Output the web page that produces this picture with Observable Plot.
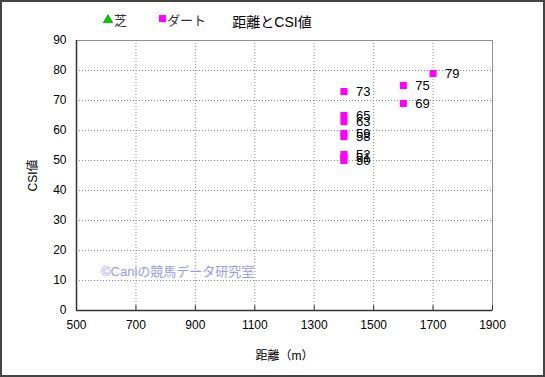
<!DOCTYPE html>
<html>
<head>
<meta charset="utf-8">
<script src="https://cdn.jsdelivr.net/npm/d3@7"></script>
<script src="https://cdn.jsdelivr.net/npm/@observablehq/plot@0.6"></script>
<style>
  html, body { margin: 0; padding: 0; background: #fff; }
  svg { display: block; }
</style>
</head>
<body>
<div id="chart"></div>
<script>
const FONT = '"Liberation Sans", Arial, "Noto Sans CJK JP", sans-serif';
const title = "距離とCSI値";
const xLabel = "距離（m）";
const yLabel = "CSI値";
const watermark = "©Caniの競馬データ研究室";
const seriesNames = ["芝", "ダート"];
const seriesColors = ["#00cc00", "#ff00ff"];

// 芝 series (no points in chart)
const turfDistance = [];
const turfCSI = [];
// ダート series
const dirtDistance = [1400, 1400, 1400, 1400, 1400, 1400, 1400, 1400, 1600, 1600, 1700];
const dirtCSI      = [73,   65,   63,   59,   58,   52,   51,   50,   75,   69,   79];

const xTicks = [500, 700, 900, 1100, 1300, 1500, 1700, 1900];
const yTicks = [0, 10, 20, 30, 40, 50, 60, 70, 80, 90];

const dirt = dirtDistance.map((d, i) => ({x: d, y: dirtCSI[i]}));
const turf = turfDistance.map((d, i) => ({x: d, y: turfCSI[i]}));

const chart = Plot.plot({
  width: 545,
  height: 377,
  marginLeft: 76,
  marginRight: 53,
  marginTop: 40,
  marginBottom: 67,
  style: {fontFamily: FONT, fontSize: "12px", color: "#000", background: "#fff"},
  x: {domain: [500, 1900]},
  y: {domain: [0, 90]},
  marks: [
    Plot.gridX(xTicks.slice(1, -1), {stroke: "#888", strokeOpacity: 1, strokeDasharray: "1,2"}),
    Plot.gridY(yTicks.slice(1, -1), {stroke: "#888", strokeOpacity: 1, strokeDasharray: "1,2"}),
    Plot.frame({stroke: "#909090"}),
    Plot.ruleX(xTicks, {y1: 0, y2: 1.6, stroke: "#333"}),
    Plot.ruleX([500], {stroke: "#333", strokeWidth: 1.5}),
    Plot.ruleY([0], {stroke: "#333", strokeWidth: 1.5}),
    Plot.axisX({ticks: xTicks, tickSize: 0, tickPadding: 10, tickFormat: d => String(d),
      label: xLabel, labelAnchor: "center", labelOffset: 49, labelArrow: "none", fontSize: 12}),
    Plot.axisY({ticks: yTicks, tickSize: 0, tickPadding: 10, tickFormat: d => String(d),
      label: yLabel, labelAnchor: "center", labelOffset: 48, labelArrow: "none", fontSize: 12}),
    Plot.dot(turf, {x: "x", y: "y", symbol: "triangle", fill: seriesColors[0], r: 4}),
    Plot.dot(dirt, {x: "x", y: "y", symbol: "square", fill: seriesColors[1], r: 4}),
    Plot.text(dirt, {x: "x", y: "y", text: d => String(d.y), dx: 12, textAnchor: "start", fontSize: 13, fill: "#000"})
  ]
});

document.getElementById("chart").appendChild(chart);

const svg = d3.select(chart);
// outer border
svg.append("rect").attr("x", 1).attr("y", 1).attr("width", 543).attr("height", 375)
  .attr("fill", "none").attr("stroke", "#444").attr("stroke-width", 2);
// title
svg.append("text").attr("x", 272).attr("y", 27).attr("text-anchor", "middle")
  .attr("font-family", FONT).attr("font-size", 14).attr("fill", "#000").text(title);
// legend
const leg = svg.append("g").attr("font-family", FONT).attr("font-size", 13).attr("fill", "#333")
  .attr("text-anchor", "start");
leg.append("path").attr("d", d3.symbol(d3.symbolTriangle, 40)()).attr("transform", "translate(108,20)")
  .attr("fill", seriesColors[0]).attr("stroke", "#006600").attr("stroke-width", 0.5);
leg.append("text").attr("x", 114).attr("y", 25).attr("text-anchor", "start").text(seriesNames[0]);
leg.append("rect").attr("x", 159).attr("y", 15).attr("width", 7).attr("height", 7).attr("fill", seriesColors[1]);
leg.append("text").attr("x", 167).attr("y", 25).attr("text-anchor", "start").text(seriesNames[1]);
// watermark
svg.append("text").attr("x", 101).attr("y", 276).attr("text-anchor", "start")
  .attr("font-family", FONT).attr("font-size", 13)
  .attr("fill", "#9a9af0").text(watermark);
</script>
</body>
</html>
